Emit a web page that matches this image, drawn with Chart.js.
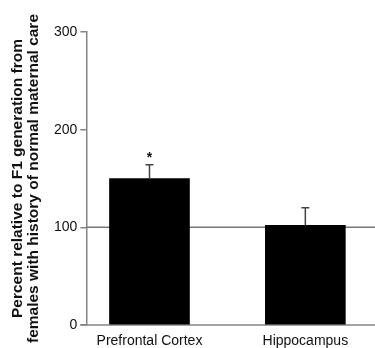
<!DOCTYPE html>
<html>
<head>
<meta charset="utf-8">
<script src="https://cdn.jsdelivr.net/npm/chart.js@4"></script>
<style>
  html, body { margin: 0; padding: 0; background: #fff; }
  #wrap { width: 375px; height: 348px; }
</style>
</head>
<body>
<div id="wrap"><canvas id="chart"></canvas></div>
<script>
// Chart data
const categories = ['Prefrontal Cortex', 'Hippocampus'];
const means = [150, 102];
const errors = [14, 18];
const marks = ['*', ''];
const yTicks = [0, 100, 200, 300];
const referenceValue = 100;

const axisGray = '#858585';
const textColor = '#111';
const fontFamily = '"Liberation Sans", Arial, sans-serif';

// Draws the 100% reference line behind the bars, error bars and stars on top
const extrasPlugin = {
    id: 'extras',
    beforeDatasetsDraw(chart) {
        const { ctx, chartArea, scales } = chart;
        const y = scales.y.getPixelForValue(referenceValue);
        ctx.save();
        ctx.strokeStyle = '#777';
        ctx.lineWidth = 1.5;
        ctx.beginPath();
        ctx.moveTo(chartArea.left, y);
        ctx.lineTo(chart.width, y);
        ctx.stroke();
        // x axis line runs a little left of the y axis, like a tick
        const y0 = scales.y.getPixelForValue(0);
        ctx.strokeStyle = axisGray;
        ctx.beginPath();
        ctx.moveTo(chartArea.left - 6, y0);
        ctx.lineTo(chart.width, y0);
        ctx.stroke();
        ctx.restore();
    },
    afterDatasetsDraw(chart) {
        const { ctx, scales } = chart;
        const meta = chart.getDatasetMeta(0);
        ctx.save();
        meta.data.forEach((bar, i) => {
            const x = bar.x;
            const yTop = scales.y.getPixelForValue(means[i]);
            const yErr = scales.y.getPixelForValue(means[i] + errors[i]);
            ctx.strokeStyle = '#444';
            ctx.lineWidth = 1.5;
            ctx.beginPath();
            ctx.moveTo(x, yTop);
            ctx.lineTo(x, yErr);
            ctx.moveTo(x - 4, yErr);
            ctx.lineTo(x + 4, yErr);
            ctx.stroke();
            if (marks[i]) {
                ctx.fillStyle = '#111';
                ctx.font = 'bold 14px ' + fontFamily;
                ctx.textAlign = 'center';
                ctx.textBaseline = 'middle';
                ctx.fillText(marks[i], x, yErr - 7);
            }
        });
        ctx.restore();
    }
};

new Chart(document.getElementById('chart'), {
    type: 'bar',
    data: {
        datasets: [{
            data: means.map((v, i) => ({ x: i, y: v })),
            backgroundColor: '#000',
            borderWidth: 0,
            barThickness: 80
        }]
    },
    options: {
        responsive: true,
        maintainAspectRatio: false,
        animation: false,
        layout: { padding: { top: 32, right: 0, bottom: 0, left: 10 } },
        plugins: {
            legend: { display: false },
            tooltip: { enabled: false }
        },
        scales: {
            x: {
                type: 'linear',
                offset: false,
                min: -0.405,
                max: 1.447,
                afterBuildTicks(axis) {
                    axis.ticks = categories.map((c, i) => ({ value: i }));
                },
                afterFit(axis) {
                    axis.height = 23;
                },
                ticks: {
                    callback: (v) => categories[v],
                    color: textColor,
                    font: { family: fontFamily, size: 14 },
                    maxRotation: 0,
                    padding: 8
                },
                grid: { display: false, drawTicks: false },
                border: { display: false }
            },
            y: {
                min: 0,
                max: 300,
                afterBuildTicks(axis) {
                    axis.ticks = yTicks.map(v => ({ value: v }));
                },
                ticks: {
                    color: textColor,
                    font: { family: fontFamily, size: 14 },
                    padding: 3
                },
                grid: {
                    drawOnChartArea: false,
                    tickLength: 6,
                    color: axisGray,
                    lineWidth: 1.5
                },
                border: { color: axisGray, width: 1.5 },
                title: {
                    display: true,
                    text: ['Percent relative to F1 generation from', 'females with history of normal maternal care'],
                    color: textColor,
                    font: { family: fontFamily, size: 15.5, weight: 'bold', lineHeight: 1.0 },
                    padding: { top: 0, bottom: 10 }
                }
            }
        }
    },
    plugins: [extrasPlugin]
});
</script>
</body>
</html>
